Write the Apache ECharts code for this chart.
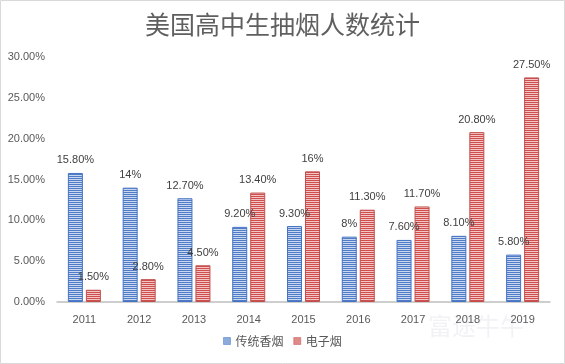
<!DOCTYPE html>
<html><head><meta charset="utf-8">
<script src="https://cdn.jsdelivr.net/npm/echarts@6/dist/echarts.min.js"></script>
<style>html,body{margin:0;padding:0;background:#fff}#c{width:565px;height:364px}</style>
</head><body><div id="c"></div>
<script>
const years = ['2011','2012','2013','2014','2015','2016','2017','2018','2019'];
const cigarette = [15.8, 14, 12.7, 9.2, 9.3, 8, 7.6, 8.1, 5.8];
const ecig = [1.5, 2.8, 4.5, 13.4, 16, 11.3, 11.7, 20.8, 27.5];
const cigaretteLabels = ['15.80%','14%','12.70%','9.20%','9.30%','8%','7.60%','8.10%','5.80%'];
const ecigLabels = ['1.50%','2.80%','4.50%','13.40%','16%','11.30%','11.70%','20.80%','27.50%'];
const yTicks = [0, 5, 10, 15, 20, 25, 30];

function stripe(dark, light) {
  const c = document.createElement('canvas');
  c.width = 4; c.height = 2;
  const g = c.getContext('2d');
  g.fillStyle = dark; g.fillRect(0, 0, 4, 1);
  g.fillStyle = light; g.fillRect(0, 1, 4, 1);
  return { image: c, repeat: 'repeat' };
}
const bluePat = stripe('#4f7cc4', '#c9d8f0');
const redPat = stripe('#cf4f4f', '#f2c4c4');

const chart = echarts.init(document.getElementById('c'));
chart.setOption({
  animation: false,
  backgroundColor: '#fff',
  title: {
    text: '美国高中生抽烟人数统计',
    left: 'center', top: 7,
    textStyle: { fontFamily: 'Noto Sans CJK SC', fontSize: 25, fontWeight: 'normal', color: '#5f5f5f' }
  },
  grid: { left: 57, right: 15, top: 57, bottom: 62 },
  legend: {
    bottom: 12, left: 'center', itemWidth: 7, itemHeight: 7, itemGap: 10, icon: 'rect',
    textStyle: { fontFamily: 'Noto Sans CJK SC', fontSize: 12, color: '#595959' },
    data: [
      { name: '传统香烟', itemStyle: { color: bluePat, borderColor: '#4472c4', borderWidth: 0.5 } },
      { name: '电子烟', itemStyle: { color: redPat, borderColor: '#c0504d', borderWidth: 0.5 } }
    ]
  },
  xAxis: {
    type: 'category', data: years,
    axisLine: { lineStyle: { color: '#bfbfbf', width: 1.5 } },
    axisTick: { show: false },
    axisLabel: { color: '#595959', fontSize: 11, margin: 12, fontFamily: 'Liberation Sans' }
  },
  yAxis: {
    type: 'value', min: 0, max: 30, interval: 5,
    splitLine: { show: false },
    axisLine: { show: false }, axisTick: { show: false },
    axisLabel: {
      color: '#595959', fontSize: 11, margin: 12, fontFamily: 'Liberation Sans',
      formatter: v => yTicks.includes(v) ? v.toFixed(2) + '%' : ''
    }
  },
  series: [
    {
      name: '传统香烟', type: 'bar', data: cigarette, barWidth: 15, barGap: '20%',
      itemStyle: { color: bluePat, borderColor: '#4472c4', borderWidth: 1 },
      label: { show: true, position: 'top', distance: 7, color: '#404040', fontSize: 11, fontFamily: 'Liberation Sans',
        formatter: p => cigaretteLabels[p.dataIndex] }
    },
    {
      name: '电子烟', type: 'bar', data: ecig, barWidth: 15,
      itemStyle: { color: redPat, borderColor: '#c0504d', borderWidth: 1 },
      label: { show: true, position: 'top', distance: 7, color: '#404040', fontSize: 11, fontFamily: 'Liberation Sans',
        formatter: p => ecigLabels[p.dataIndex] }
    }
  ],
  graphic: [
    { type: 'rect', shape: { x: 0.5, y: 0.5, width: 564, height: 363 }, style: { fill: 'none', stroke: '#d9d9d9', lineWidth: 1 }, silent: true },
    { type: 'text', left: 428, top: 314, z: -1, silent: true,
      style: { text: '富途牛牛', fontFamily: 'Noto Sans CJK SC', fontSize: 24, fill: 'rgba(200,205,215,0.25)' } }
  ]
});
</script></body></html>
